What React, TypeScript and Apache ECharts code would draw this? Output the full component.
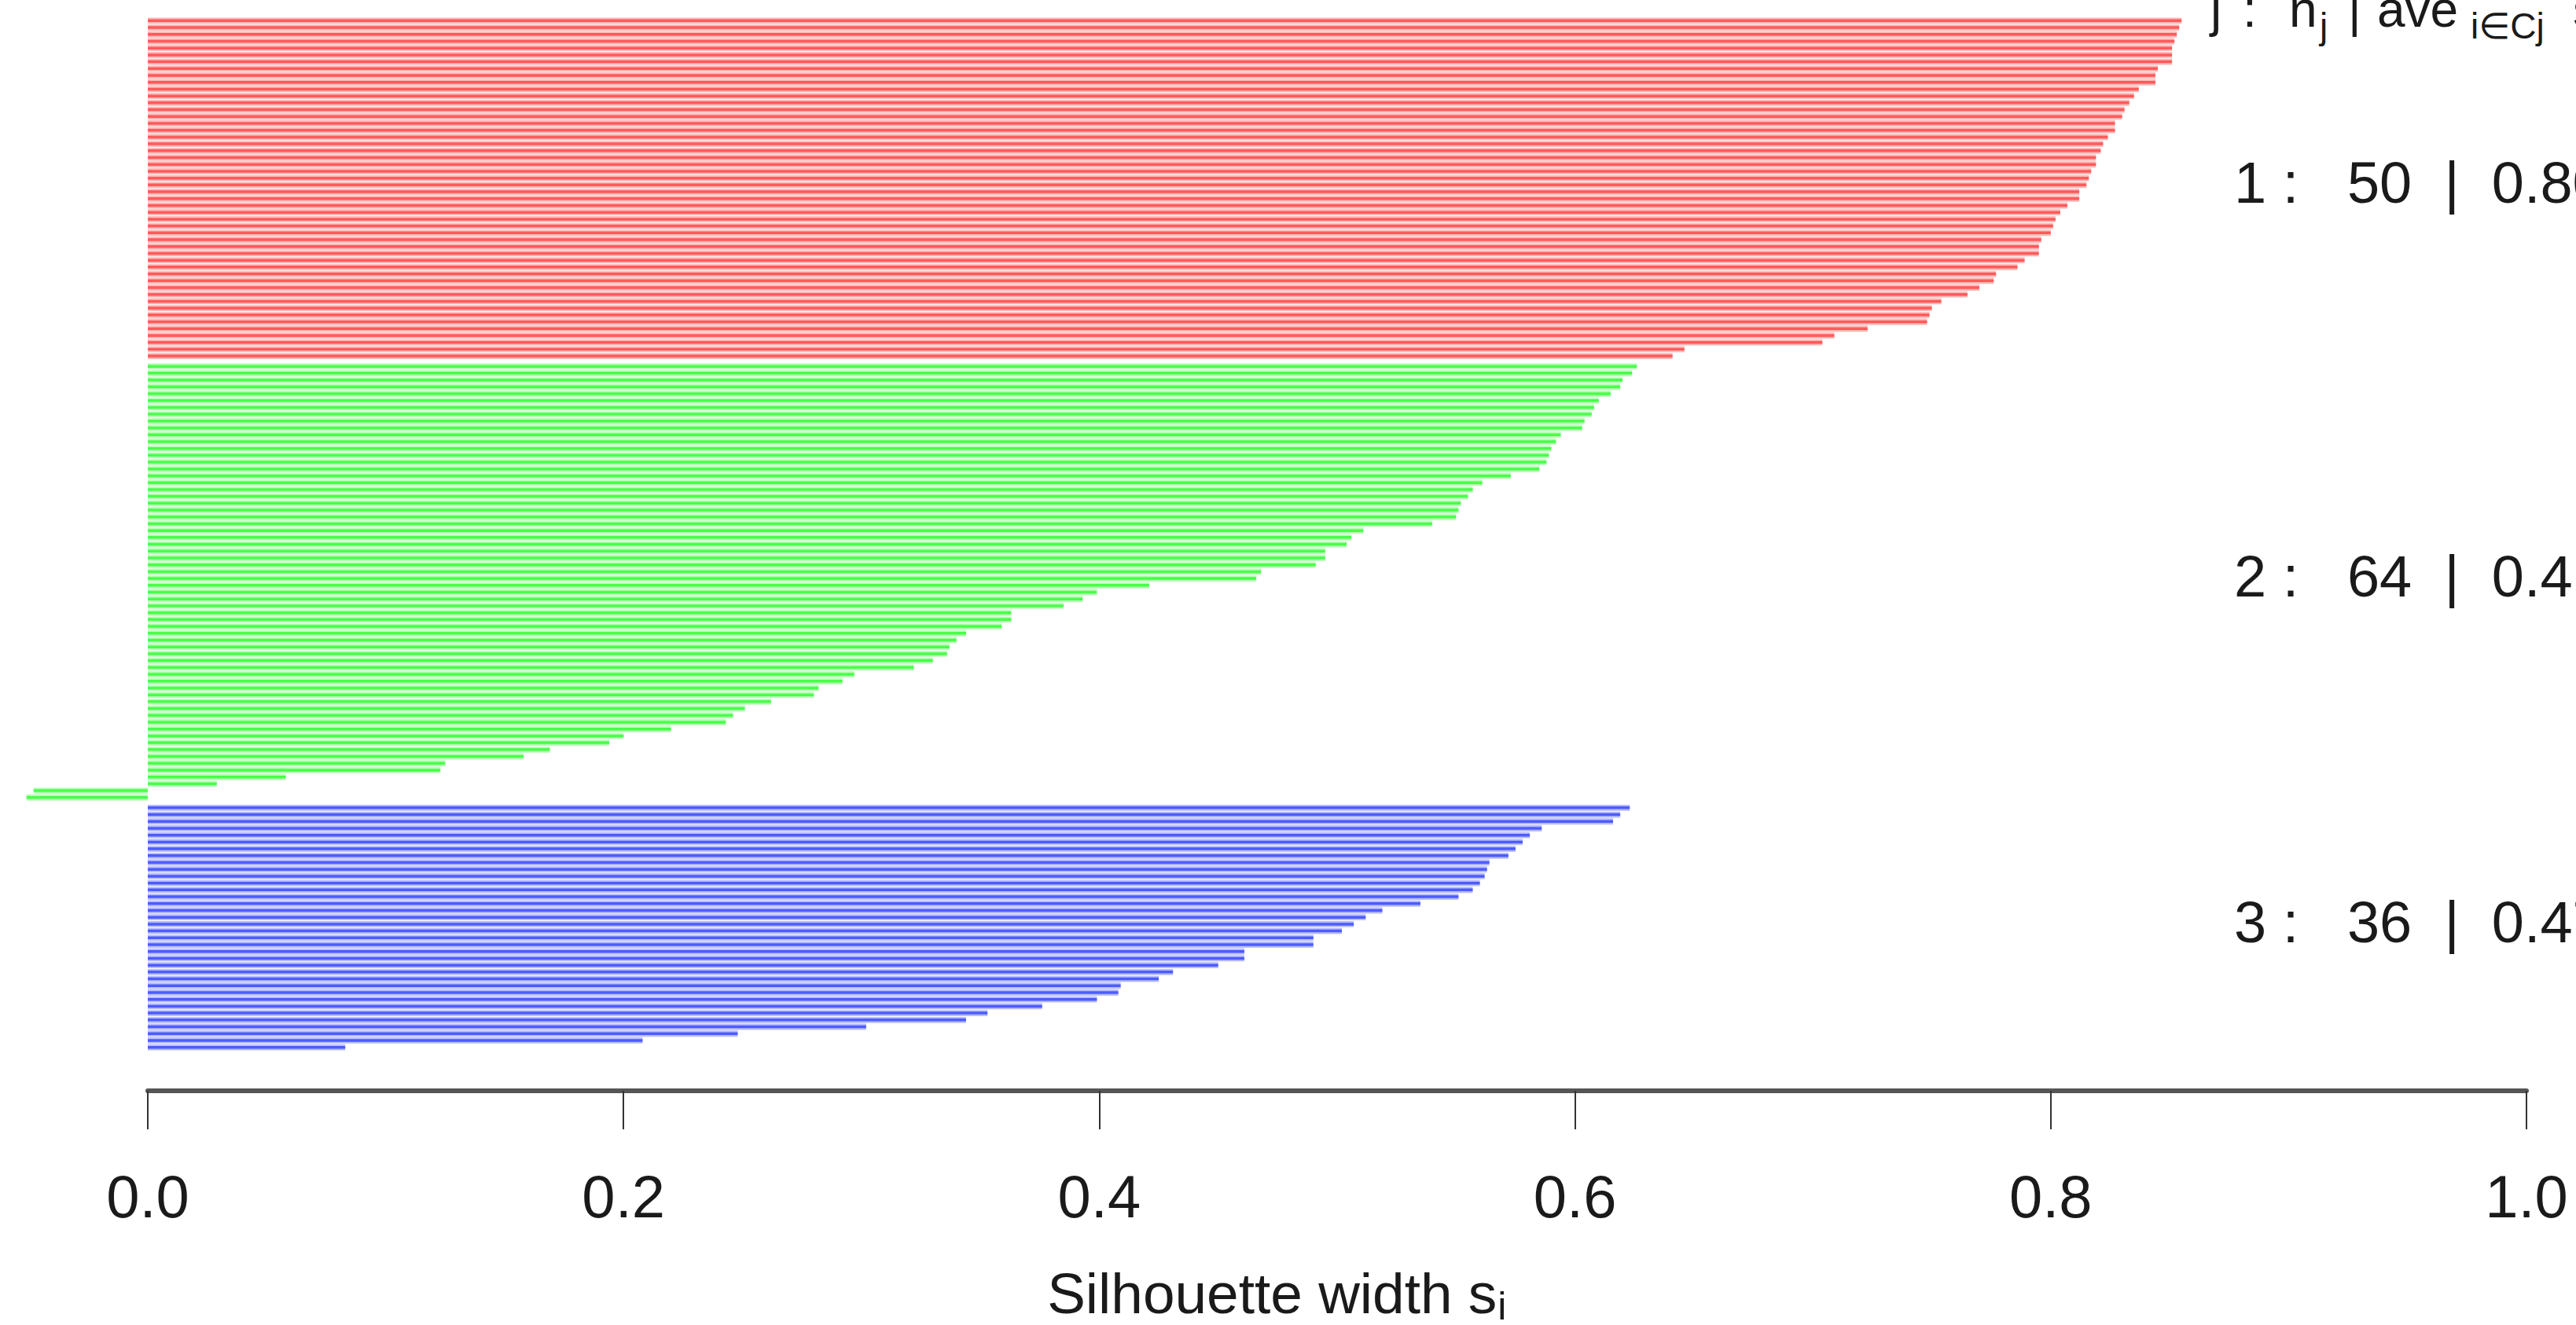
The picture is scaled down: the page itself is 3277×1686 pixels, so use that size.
import React, { useEffect, useRef } from "react";
import * as echarts from "echarts";

// ---------- data ----------
const clusterIds = [1, 2, 3];
const clusterSizes = [50, 64, 36];
const clusterAverages = ["0.80", "0.41", "0.47"];

const cluster1Widths = [
  0.855, 0.854, 0.853, 0.852, 0.851, 0.851, 0.851, 0.845, 0.844, 0.844,
  0.837, 0.835, 0.833, 0.831, 0.830, 0.827, 0.827, 0.824, 0.822, 0.821,
  0.819, 0.819, 0.817, 0.816, 0.815, 0.812, 0.812, 0.807, 0.804, 0.802,
  0.801, 0.800, 0.796, 0.795, 0.795, 0.789, 0.786, 0.777, 0.776, 0.770,
  0.765, 0.754, 0.750, 0.749, 0.748, 0.723, 0.709, 0.704, 0.646, 0.641,
];
const cluster2Widths = [
  0.626, 0.624, 0.620, 0.619, 0.615, 0.610, 0.608, 0.607, 0.604, 0.603,
  0.594, 0.592, 0.590, 0.589, 0.588, 0.585, 0.573, 0.561, 0.557, 0.555,
  0.552, 0.551, 0.550, 0.540, 0.511, 0.506, 0.504, 0.495, 0.495, 0.491,
  0.468, 0.466, 0.421, 0.399, 0.393, 0.385, 0.363, 0.363, 0.359, 0.344,
  0.340, 0.337, 0.336, 0.330, 0.322, 0.297, 0.292, 0.282, 0.280, 0.262,
  0.251, 0.246, 0.243, 0.220, 0.200, 0.194, 0.169, 0.158, 0.125, 0.123,
  0.058, 0.029, -0.048, -0.051,
];
const cluster3Widths = [
  0.623, 0.619, 0.616, 0.586, 0.581, 0.578, 0.575, 0.572, 0.564, 0.563,
  0.562, 0.560, 0.557, 0.551, 0.535, 0.519, 0.512, 0.507, 0.502, 0.490,
  0.490, 0.461, 0.461, 0.450, 0.431, 0.425, 0.409, 0.408, 0.399, 0.376,
  0.353, 0.344, 0.302, 0.248, 0.208, 0.083,
];
const clusterWidths = [cluster1Widths, cluster2Widths, cluster3Widths];

const xTickValues = [0, 0.2, 0.4, 0.6, 0.8, 1.0];
const xAxisTitle = "Silhouette width s";
const xAxisTitleSub = "i";

const clusterLight = ["#ffb8b8", "#b8ffb8", "#b8bcff"];
const clusterDark = ["#ff5a5a", "#48ff48", "#4c5cff"];

const FONT = "'Liberation Sans', Arial, 'DejaVu Sans', sans-serif";
const CLUSTER_SPACE = 0.5; // R barplot space between clusters

export default function App() {
  const ref = useRef<HTMLDivElement>(null);

  useEffect(() => {
    document.body.style.margin = "0";
    if (!ref.current) return;
    const chart = echarts.init(ref.current, undefined, { renderer: "svg" });

    const series: any[] = [];
    const centers: number[] = [];
    let pos = 0;
    clusterWidths.forEach((arr, ci) => {
      if (ci > 0) pos += CLUSTER_SPACE;
      const data = arr.map((v, i) => [v, pos + i]);
      centers.push(pos + (arr.length - 1) / 2);
      pos += arr.length;
      const light = clusterLight[ci];
      const dark = clusterDark[ci];
      series.push({
        type: "custom",
        name: "cluster " + clusterIds[ci],
        clip: false,
        encode: { x: 0, y: 1 },
        data,
        renderItem: (params: any, api: any) => {
          const v = api.value(0);
          const p = api.value(1);
          const a = api.coord([0, p]);
          const b = api.coord([v, p]);
          const h = api.size([0, 1])[1];
          const x0 = Math.min(a[0], b[0]);
          const w = Math.abs(b[0] - a[0]);
          return {
            type: "group",
            children: [
              {
                type: "rect",
                shape: { x: x0, y: a[1] - h * 0.45, width: w, height: h * 0.9 },
                style: { fill: light },
              },
              {
                type: "rect",
                shape: { x: x0, y: a[1] - h * 0.2, width: w, height: h * 0.4 },
                style: { fill: dark },
              },
            ],
          };
        },
      });
    });
    const yMax = pos - 0.5;
    const allWidths = ([] as number[]).concat(...clusterWidths);
    const xMinData = Math.min(0, ...allWidths);

    chart.setOption({
      animation: false,
      backgroundColor: "#ffffff",
      grid: { left: 188, right: 63, top: 22, bottom: 349 },
      xAxis: {
        type: "value",
        min: xTickValues[0],
        max: xTickValues[xTickValues.length - 1],
        interval: 0.2,
        position: "bottom",
        offset: 51,
        axisLine: { show: true, onZero: false, lineStyle: { color: "#555555", width: 6 } },
        axisTick: { show: true, length: 49, lineStyle: { color: "#333", width: 2 } },
        axisLabel: {
          fontSize: 76,
          fontFamily: FONT,
          color: "#1a1a1a",
          margin: 96,
          formatter: (v: number) => v.toFixed(1),
        },
        splitLine: { show: false },
      },
      yAxis: {
        type: "value",
        inverse: true,
        min: -0.5,
        max: yMax,
        show: false,
      },
      series,
    });

    const graphics: any[] = [];
    clusterIds.forEach((id, ci) => {
      const y = chart.convertToPixel({ yAxisIndex: 0 }, centers[ci]) as number;
      graphics.push({
        type: "text",
        x: 2842,
        y: y - 7,
        style: {
          text: `${id} :   ${clusterSizes[ci]}  |  ${clusterAverages[ci]}`,
          fontSize: 74,
          fontFamily: FONT,
          fill: "#1a1a1a",
          textAlign: "left",
          textVerticalAlign: "middle",
        },
      });
    });

    // header  j :  n_j | ave_{i in Cj}  s_i
    const hMain = 64;
    const hSub = 46;
    const hy = 12;
    const hsy = 33;
    const mainPieces: [string, number][] = [
      ["j", 2812],
      [":", 2853],
      ["n", 2912],
      ["|", 2987],
      ["ave", 3024],
      ["s", 3273],
    ];
    const subPieces: [string, number][] = [
      ["j", 2951],
      ["i\u2208Cj", 3143],
    ];
    mainPieces.forEach(([t, x]) =>
      graphics.push({
        type: "text",
        x,
        y: hy,
        style: { text: t, fontSize: hMain, fontFamily: FONT, fill: "#1a1a1a", textVerticalAlign: "middle" },
      })
    );
    subPieces.forEach(([t, x]) =>
      graphics.push({
        type: "text",
        x,
        y: hsy,
        style: { text: t, fontSize: hSub, fontFamily: FONT, fill: "#1a1a1a", textVerticalAlign: "middle" },
      })
    );

    // x axis title, centred on the plotted x range as R does
    const xc = chart.convertToPixel({ xAxisIndex: 0 }, (xMinData + 1) / 2) as number;
    const titleMainW = 572;
    const titleSubW = 11;
    const splitX = xc + (titleMainW + titleSubW) / 2 - titleSubW;
    graphics.push({
      type: "text",
      x: splitX,
      y: 1645,
      style: {
        text: xAxisTitle,
        fontSize: 73,
        fontFamily: FONT,
        fill: "#1a1a1a",
        textAlign: "right",
        textVerticalAlign: "middle",
      },
    });
    graphics.push({
      type: "text",
      x: splitX + 1,
      y: 1662,
      style: {
        text: xAxisTitleSub,
        fontSize: 50,
        fontFamily: FONT,
        fill: "#1a1a1a",
        textAlign: "left",
        textVerticalAlign: "middle",
      },
    });

    chart.setOption({ graphic: graphics });

    return () => chart.dispose();
  }, []);

  return (
    <div
      ref={ref}
      style={{ width: 3277, height: 1686, overflow: "hidden", background: "#fff" }}
    />
  );
}
